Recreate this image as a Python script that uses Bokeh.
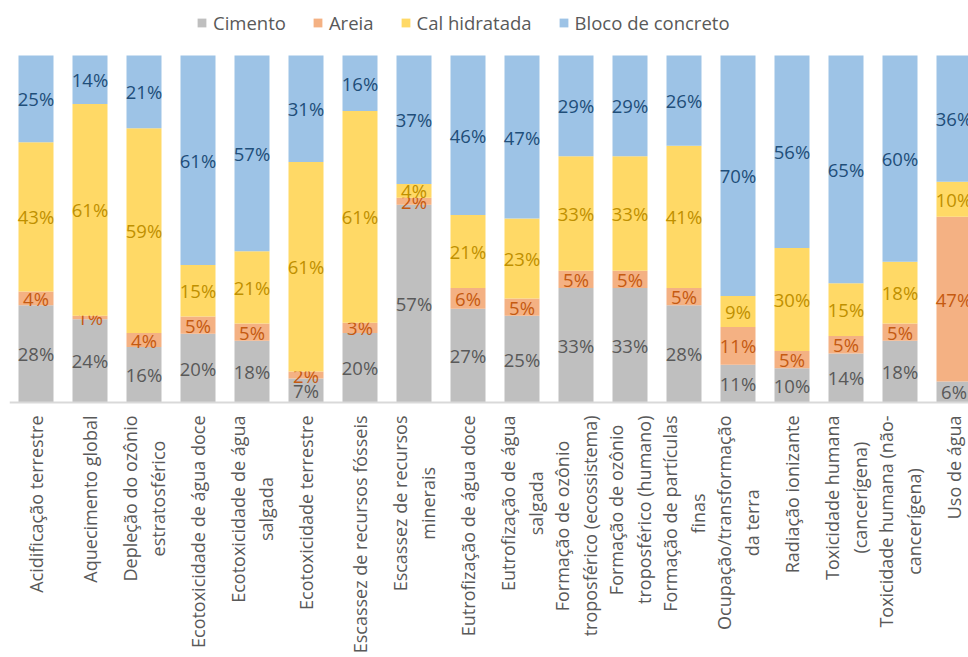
import unicodedata
import numpy as np
from bokeh.plotting import figure
from bokeh.models import ColumnDataSource, Range1d, Legend, LegendItem, Span
from bokeh.embed import file_html
from bokeh.resources import INLINE
from bokeh.core.properties import value

categories = [
    "Acidificação terrestre",
    "Aquecimento global",
    "Depleção do ozônio\nestratosférico",
    "Ecotoxicidade de água doce",
    "Ecotoxicidade de água\nsalgada",
    "Ecotoxicidade terrestre",
    "Escassez de recursos fósseis",
    "Escassez de recursos\nminerais",
    "Eutrofização de água doce",
    "Eutrofização de água\nsalgada",
    "Formação de ozônio\ntroposférico (ecossistema)",
    "Formação de ozônio\ntroposférico (humano)",
    "Formação de partículas\nfinas",
    "Ocupação/transformação\nda terra",
    "Radiação ionizante",
    "Toxicidade humana\n(cancerígena)",
    "Toxicidade humana (não-\ncancerígena)",
    "Uso de água",
]
cimento = [28, 24, 16, 20, 18, 7, 20, 57, 27, 25, 33, 33, 28, 11, 10, 14, 18, 6]
areia = [4, 1, 4, 5, 5, 2, 3, 2, 6, 5, 5, 5, 5, 11, 5, 5, 5, 47]
cal_hidratada = [43, 61, 59, 15, 21, 61, 61, 4, 21, 23, 33, 33, 41, 9, 30, 15, 18, 10]
bloco_concreto = [25, 14, 21, 61, 57, 31, 16, 37, 46, 47, 29, 29, 26, 70, 56, 65, 60, 36]

series_names = ["Cimento", "Areia", "Cal hidratada", "Bloco de concreto"]
bar_colors = ["#BFBFBF", "#F4B183", "#FFD966", "#9DC3E6"]
label_colors = ["#595959", "#C55A11", "#BF9000", "#1F4E79"]

FONT = "Open Sans"
LABEL_SIZE = 18.0

# approximate Open Sans advance widths (em) to centre wrapped category lines
EM = {" ": 0.26, "a": 0.556, "b": 0.613, "c": 0.476, "d": 0.613, "e": 0.561, "f": 0.339,
      "g": 0.548, "h": 0.614, "i": 0.253, "j": 0.253, "k": 0.525, "l": 0.253, "m": 0.930,
      "n": 0.614, "o": 0.604, "p": 0.613, "q": 0.613, "r": 0.408, "s": 0.477, "t": 0.353,
      "u": 0.614, "v": 0.501, "w": 0.778, "x": 0.524, "y": 0.502, "z": 0.477,
      "A": 0.633, "D": 0.711, "E": 0.543, "F": 0.493, "O": 0.781, "R": 0.604, "T": 0.531,
      "U": 0.714, "(": 0.297, ")": 0.297, "/": 0.364, "-": 0.322}


def text_px(s, size):
    tot_em = 0.0
    for ch in s:
        base = unicodedata.normalize("NFD", ch)[0]
        tot_em += EM.get(base, 0.56)
    return tot_em * size


n = len(categories)
xs = np.arange(n)
vals = np.array([cimento, areia, cal_hidratada, bloco_concreto], dtype=float)
tot = vals.sum(axis=0)
pct = vals / tot * 100.0
tops = np.cumsum(pct, axis=0)
bottoms = tops - pct

W, H = 968, 657
baseline_px = 402.0          # screen y of the 0% line
bar_px = 347.0               # screen height of 100%
ppu = bar_px / 100.0         # pixels per percent (y)
slot_px = 54.0               # pixels per category (x)
p = figure(width=W, height=H,
           x_range=Range1d(-(35.5 - 9) / slot_px, (W - 35.5) / slot_px),
           y_range=Range1d(-(H - baseline_px) / ppu, baseline_px / ppu),
           x_axis_location=None, y_axis_location=None,
           min_border_left=9, min_border_right=0, min_border_top=0, min_border_bottom=0,
           toolbar_location=None, output_backend="svg")
p.xgrid.visible = False
p.ygrid.visible = False
p.outline_line_color = None
p.background_fill_color = "white"
p.border_fill_color = "white"

renderers = []
for k, name in enumerate(series_names):
    src = ColumnDataSource(dict(
        x=xs, bottom=bottoms[k], top=tops[k],
        mid=(bottoms[k] + tops[k]) / 2.0,
        lab=[f"{int(v)}%" for v in vals[k]],
    ))
    r = p.vbar(x="x", bottom="bottom", top="top", width=35.0 / slot_px, source=src,
               fill_color=bar_colors[k], line_color=None)
    renderers.append(r)
    p.text(x="x", y="mid", text="lab", source=src,
           text_font=value(FONT), text_font_size="18.5px",
           text_color=label_colors[k], text_align="center", text_baseline="middle")

# category axis baseline
p.add_layout(Span(location=0, dimension="width", line_color="#D9D9D9", line_width=2))

# category labels: rotated; longest line ends ~13px below the axis, other line centred on it
label_top_gap = 13.0
line_step = 28.0
long_x, long_y, long_t = [], [], []
short_x, short_y, short_t = [], [], []
for i, cat in enumerate(categories):
    lines = cat.split("\n")
    widths = [text_px(s, LABEL_SIZE) for s in lines]
    j_long = int(np.argmax(widths))
    centre_below = label_top_gap + widths[j_long] / 2.0
    m = len(lines)
    for j, s in enumerate(lines):
        xoff = (j - (m - 1) / 2.0) * line_step / slot_px
        if j == j_long:
            long_x.append(i + xoff)
            long_y.append(-label_top_gap / ppu)
            long_t.append(s)
        else:
            short_x.append(i + xoff)
            short_y.append(-centre_below / ppu)
            short_t.append(s)

p.text(x=long_x, y=long_y, text=long_t, angle=np.pi / 2,
       text_align="right", text_baseline="middle",
       text_font=value(FONT), text_font_size=f"{LABEL_SIZE}px", text_color="#595959")
p.text(x=short_x, y=short_y, text=short_t, angle=np.pi / 2,
       text_align="center", text_baseline="middle",
       text_font=value(FONT), text_font_size=f"{LABEL_SIZE}px", text_color="#595959")

legend = Legend(items=[LegendItem(label=nm, renderers=[r]) for nm, r in zip(series_names, renderers)],
                orientation="horizontal", location=(187, H - 9.5 - 25),
                border_line_color=None, background_fill_alpha=0,
                label_text_font=FONT, label_text_font_size="18.5px",
                label_text_color="#595959",
                glyph_width=11, glyph_height=11, label_standoff=6, spacing=26,
                padding=0, margin=0)
p.add_layout(legend)

open("out.html", "w").write(file_html(p, INLINE))
